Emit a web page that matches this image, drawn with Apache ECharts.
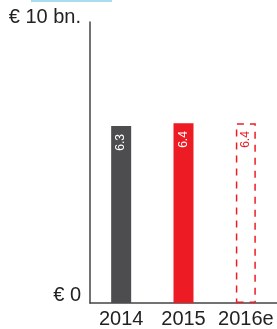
<!DOCTYPE html>
<html>
<head>
<meta charset="utf-8">
<script src="https://cdn.jsdelivr.net/npm/echarts@6/dist/echarts.min.js"></script>
<style>
  html, body { margin: 0; padding: 0; background: #fff; }
  #chart { width: 277px; height: 329px; }
</style>
</head>
<body>
<div id="chart"></div>
<script>
const years = ['2014', '2015', '2016e']
const values = [6.3, 6.4, 6.4]
const estimated = [false, false, true]
const barColors = ['#4d4d4f', '#ed1c24', '#ed1c24']
const yTicks = { 0: '€ 0', 10: '€ 10 bn.' }

const chart = echarts.init(document.getElementById('chart'))

const data = values.map((v, i) => {
  if (estimated[i]) {
    return {
      value: v,
      itemStyle: {
        color: 'rgba(255,255,255,0)',
        borderColor: barColors[i],
        borderWidth: 1.5,
        borderType: [7, 6],
      },
      label: { color: barColors[i] },
    }
  }
  return { value: v, itemStyle: { color: barColors[i] } }
})

const option = {
  animation: false,
  textStyle: { fontFamily: 'Liberation Sans, Arial, sans-serif' },
  grid: { left: 90, right: -2, top: 22, bottom: 26, containLabel: false },
  xAxis: {
    type: 'category',
    data: years,
    axisLine: { lineStyle: { color: '#444', width: 1.5 } },
    axisTick: { show: false },
    axisLabel: { color: '#222', fontSize: 20, margin: 6, interval: 0, hideOverlap: false },
  },
  yAxis: {
    type: 'value',
    min: 0,
    max: 10,
    interval: 10,
    splitLine: { show: false },
    axisLine: { show: true, lineStyle: { color: '#444', width: 1.5 } },
    axisTick: { show: false },
    axisLabel: {
      color: '#222',
      fontSize: 20,
      margin: 9,
      formatter: (v) => (v === 0 ? '{lo|' + yTicks[v] + '}' : '{hi|' + (yTicks[v] || '') + '}'),
      rich: {
        lo: { fontSize: 20, color: '#222', padding: [0, 0, 16, 0] },
        hi: { fontSize: 20, color: '#222', padding: [0, 0, 10, 0] },
      },
    },
  },
  graphic: [
    {
      type: 'line',
      shape: { x1: 31, y1: 1, x2: 112, y2: 1 },
      style: { stroke: '#a9dcec', lineWidth: 2 },
    },
  ],
  series: [
    {
      type: 'bar',
      barWidth: 20,
      data,
      label: {
        show: true,
        position: 'insideTop',
        rotate: 90,
        align: 'right',
        verticalAlign: 'middle',
        distance: 8,
        color: '#fff',
        fontSize: 12,
      },
    },
  ],
}
chart.setOption(option)
</script>
</body>
</html>
